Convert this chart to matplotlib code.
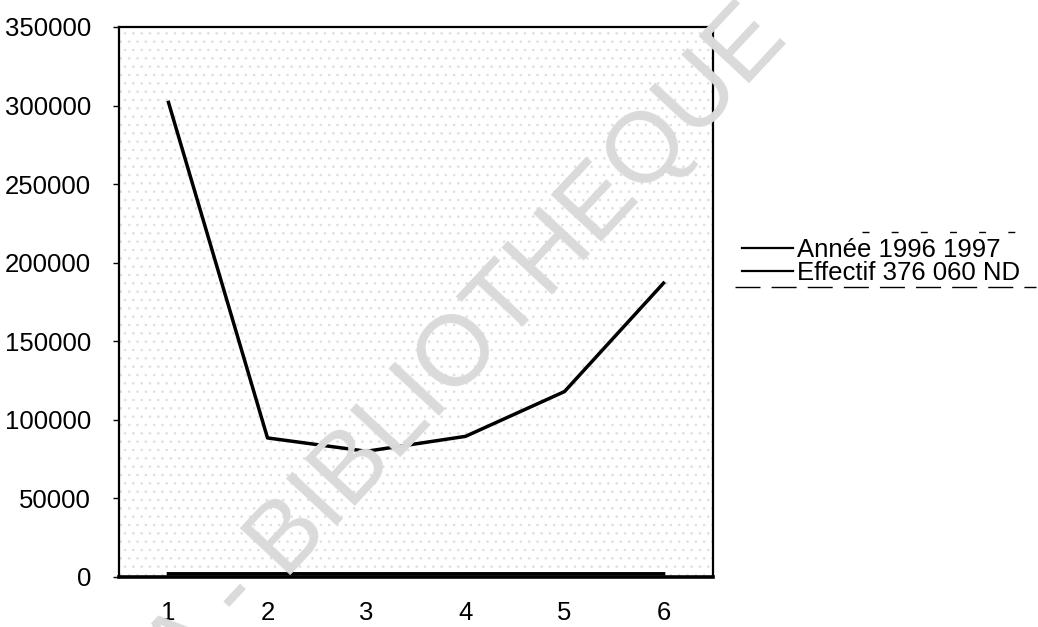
import matplotlib.pyplot as plt
from matplotlib.lines import Line2D

# Données
categories = [1, 2, 3, 4, 5, 6]
effectif = [302000, 88500, 80000, 89500, 118000, 187000]
annee = [1996, 1997, 1998, 1999, 2000, 2001]
y_ticks = [0, 50000, 100000, 150000, 200000, 250000, 300000, 350000]
labels = ["Année 1996 1997", "Effectif 376 060 ND"]

plt.rcParams['font.family'] = ['Liberation Sans', 'DejaVu Sans']
plt.rcParams['hatch.linewidth'] = 0.6

fig = plt.figure(figsize=(10.38, 6.27), dpi=100)
ax = fig.add_axes([119 / 1038, 50 / 627, 594 / 1038, 550 / 627])

# fond tramé de la zone de tracé
ax.set_facecolor('white')
ax.fill_between([0.5, 6.5], 0, 350000, facecolor='white', edgecolor='#dedede',
                hatch='..', linewidth=0, zorder=0)

l1, = ax.plot(categories, annee, color='black', linewidth=2.6, zorder=3)
l2, = ax.plot(categories, effectif, color='black', linewidth=2.5, zorder=3)

ax.set_xlim(0.5, 6.5)
ax.set_ylim(0, 350000)
ax.set_xticks(categories)
ax.set_xticklabels([str(c) for c in categories])
ax.set_yticks(y_ticks)
ax.set_yticklabels([str(v) for v in y_ticks])
ax.tick_params(axis='y', length=4, width=1, direction='out', pad=16, labelsize=18.5)
ax.tick_params(axis='x', length=0, pad=17, labelsize=18.5)

for s in ax.spines.values():
    s.set_linewidth(1.6)
    s.set_color('black')
ax.spines['bottom'].set_linewidth(2.6)

# filigrane
fig.text(790 / 1038, 1 - 40 / 627, "CODESRIA - BIBLIOTHEQUE", fontsize=72,
         color='#dadada', rotation=47, rotation_mode='anchor',
         ha='right', va='baseline', zorder=5)

leg = fig.legend([l1, l2], labels, loc='upper left',
                 bbox_to_anchor=(742 / 1038, 1 - 238 / 627),
                 frameon=False, fontsize=18.5, handlelength=2.0,
                 handletextpad=0.15, labelspacing=-0.05, borderpad=0,
                 borderaxespad=0)
for h in leg.legend_handles:
    h.set_linewidth(1.6)

# bordure de légende à moitié effacée par le scan
fig.add_artist(Line2D([862 / 1038, 1034 / 1038], [1 - 232 / 627] * 2,
                      color='black', linewidth=1, dashes=(5, 16)))
fig.add_artist(Line2D([735 / 1038, 1036 / 1038], [1 - 287 / 627] * 2,
                      color='black', linewidth=1, dashes=(18, 8)))

fig.savefig('out.png', dpi=100)
